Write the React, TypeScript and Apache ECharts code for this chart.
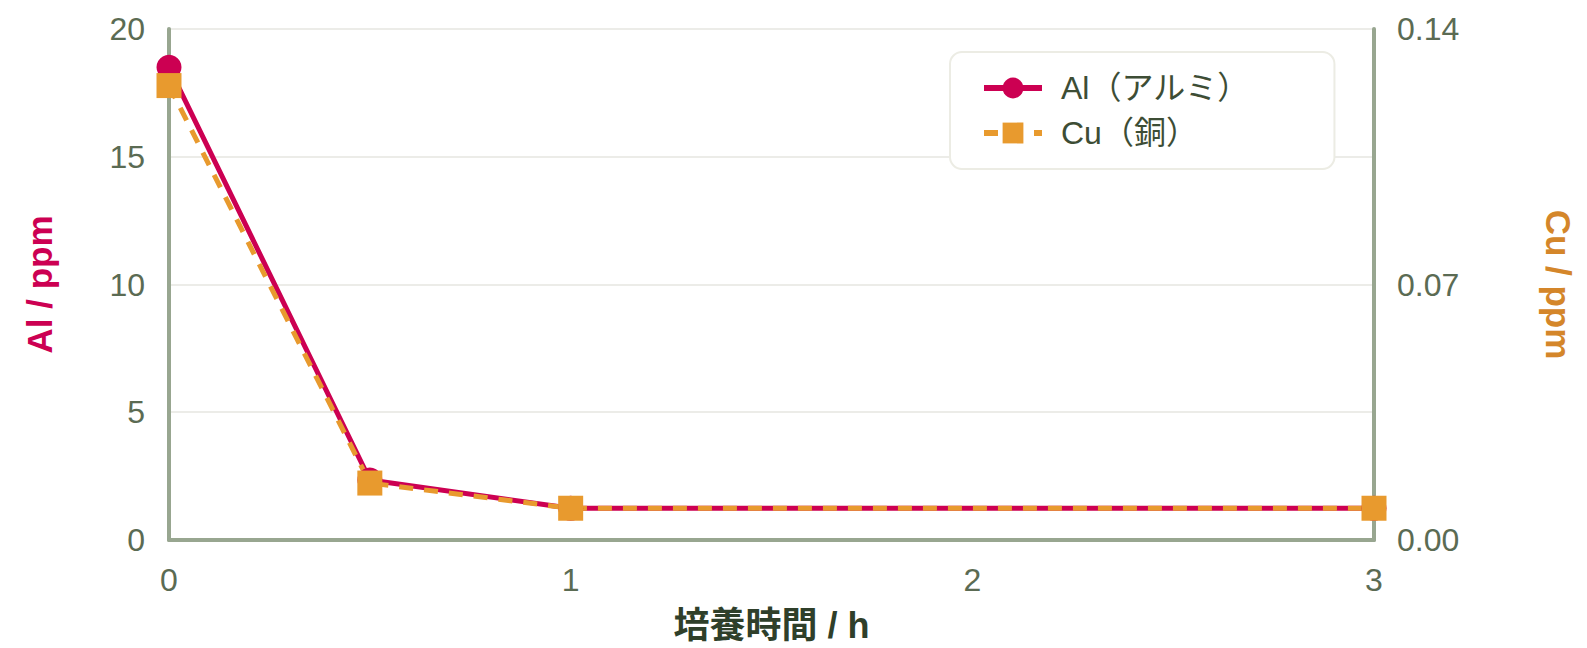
import React, { useEffect, useRef } from "react";
import * as echarts from "echarts";

const hours = [0, 0.5, 1, 3];
const alValues = [18.5, 2.35, 1.24, 1.24];
const cuValues = [0.1245, 0.0156, 0.0087, 0.0087];
const alName = "Al（アルミ）";
const cuName = "Cu（銅）";
const xAxisName = "培養時間 / h";
const leftAxisName = "Al / ppm";
const rightAxisName = "Cu / ppm";

const FONT = 'Arial, "Liberation Sans", "Noto Sans CJK JP", sans-serif';
const AL_COLOR = "#cc0052";
const CU_COLOR = "#e89a2e";
const AXIS_COLOR = "#98a690";
const LABEL_COLOR = "#5b6b53";

export default function App() {
  const ref = useRef<HTMLDivElement>(null);
  useEffect(() => {
    document.body.style.margin = "0";
    if (!ref.current) return;
    const chart = echarts.init(ref.current, undefined, { renderer: "svg" });
    chart.setOption({
      animation: false,
      backgroundColor: "#ffffff",
      textStyle: { fontFamily: FONT },
      grid: { left: 169, right: 213, top: 29, bottom: 107, containLabel: false },
      legend: {
        left: 950,
        top: 52,
        orient: "vertical",
        backgroundColor: "#ffffff",
        borderColor: "#ecece4",
        borderWidth: 2,
        borderRadius: 12,
        padding: [20, 85, 20, 31],
        itemGap: 13,
        itemWidth: 58,
        itemHeight: 26,
        lineStyle: { width: 6 },
        textStyle: {
          fontSize: 32,
          color: "#3d4d35",
          fontFamily: FONT,
          padding: [0, 0, 0, 14],
        },
        data: [alName, cuName],
      },
      xAxis: {
        type: "value",
        min: 0,
        max: 3,
        interval: 1,
        name: xAxisName,
        nameLocation: "middle",
        nameGap: 67,
        nameTextStyle: { fontSize: 36, fontWeight: "bold", color: "#2f3f2a", fontFamily: FONT },
        axisLine: { show: true, lineStyle: { color: AXIS_COLOR, width: 4 } },
        axisTick: { show: false },
        splitLine: { show: false },
        axisLabel: { fontSize: 32, color: LABEL_COLOR, margin: 24 },
      },
      yAxis: [
        {
          type: "value",
          position: "left",
          min: 0,
          max: 20,
          interval: 5,
          name: leftAxisName,
          nameLocation: "middle",
          nameGap: 112,
          nameTextStyle: { fontSize: 35, fontWeight: "bold", color: AL_COLOR, fontFamily: FONT },
          axisLine: { show: true, lineStyle: { color: AXIS_COLOR, width: 4 } },
          axisTick: { show: false },
          splitLine: { show: true, lineStyle: { color: "#ececE8", width: 2 } },
          axisLabel: { fontSize: 32, color: LABEL_COLOR, margin: 24 },
        },
        {
          type: "value",
          position: "right",
          min: 0,
          max: 0.14,
          interval: 0.07,
          name: rightAxisName,
          nameLocation: "middle",
          nameGap: 167,
          nameRotate: -90,
          nameTextStyle: { fontSize: 35, fontWeight: "bold", color: "#d4862a", fontFamily: FONT },
          axisLine: { show: true, lineStyle: { color: AXIS_COLOR, width: 4 } },
          axisTick: { show: false },
          splitLine: { show: false },
          axisLabel: {
            fontSize: 32,
            color: LABEL_COLOR,
            margin: 23,
            formatter: (v: number) => v.toFixed(2),
          },
        },
      ],
      series: [
        {
          name: alName,
          type: "line",
          yAxisIndex: 0,
          data: hours.map((h, i) => [h, alValues[i]]),
          symbol: "circle",
          symbolSize: 25,
          showAllSymbol: true,
          itemStyle: { color: AL_COLOR },
          lineStyle: { color: AL_COLOR, width: 5 },
        },
        {
          name: cuName,
          type: "line",
          yAxisIndex: 1,
          data: hours.map((h, i) => [h, cuValues[i]]),
          symbol: "rect",
          symbolSize: 25,
          showAllSymbol: true,
          itemStyle: { color: CU_COLOR },
          lineStyle: { color: CU_COLOR, width: 5, type: [14, 11] },
        },
      ],
    });
    return () => chart.dispose();
  }, []);
  return <div ref={ref} style={{ width: 1587, height: 648 }} />;
}
